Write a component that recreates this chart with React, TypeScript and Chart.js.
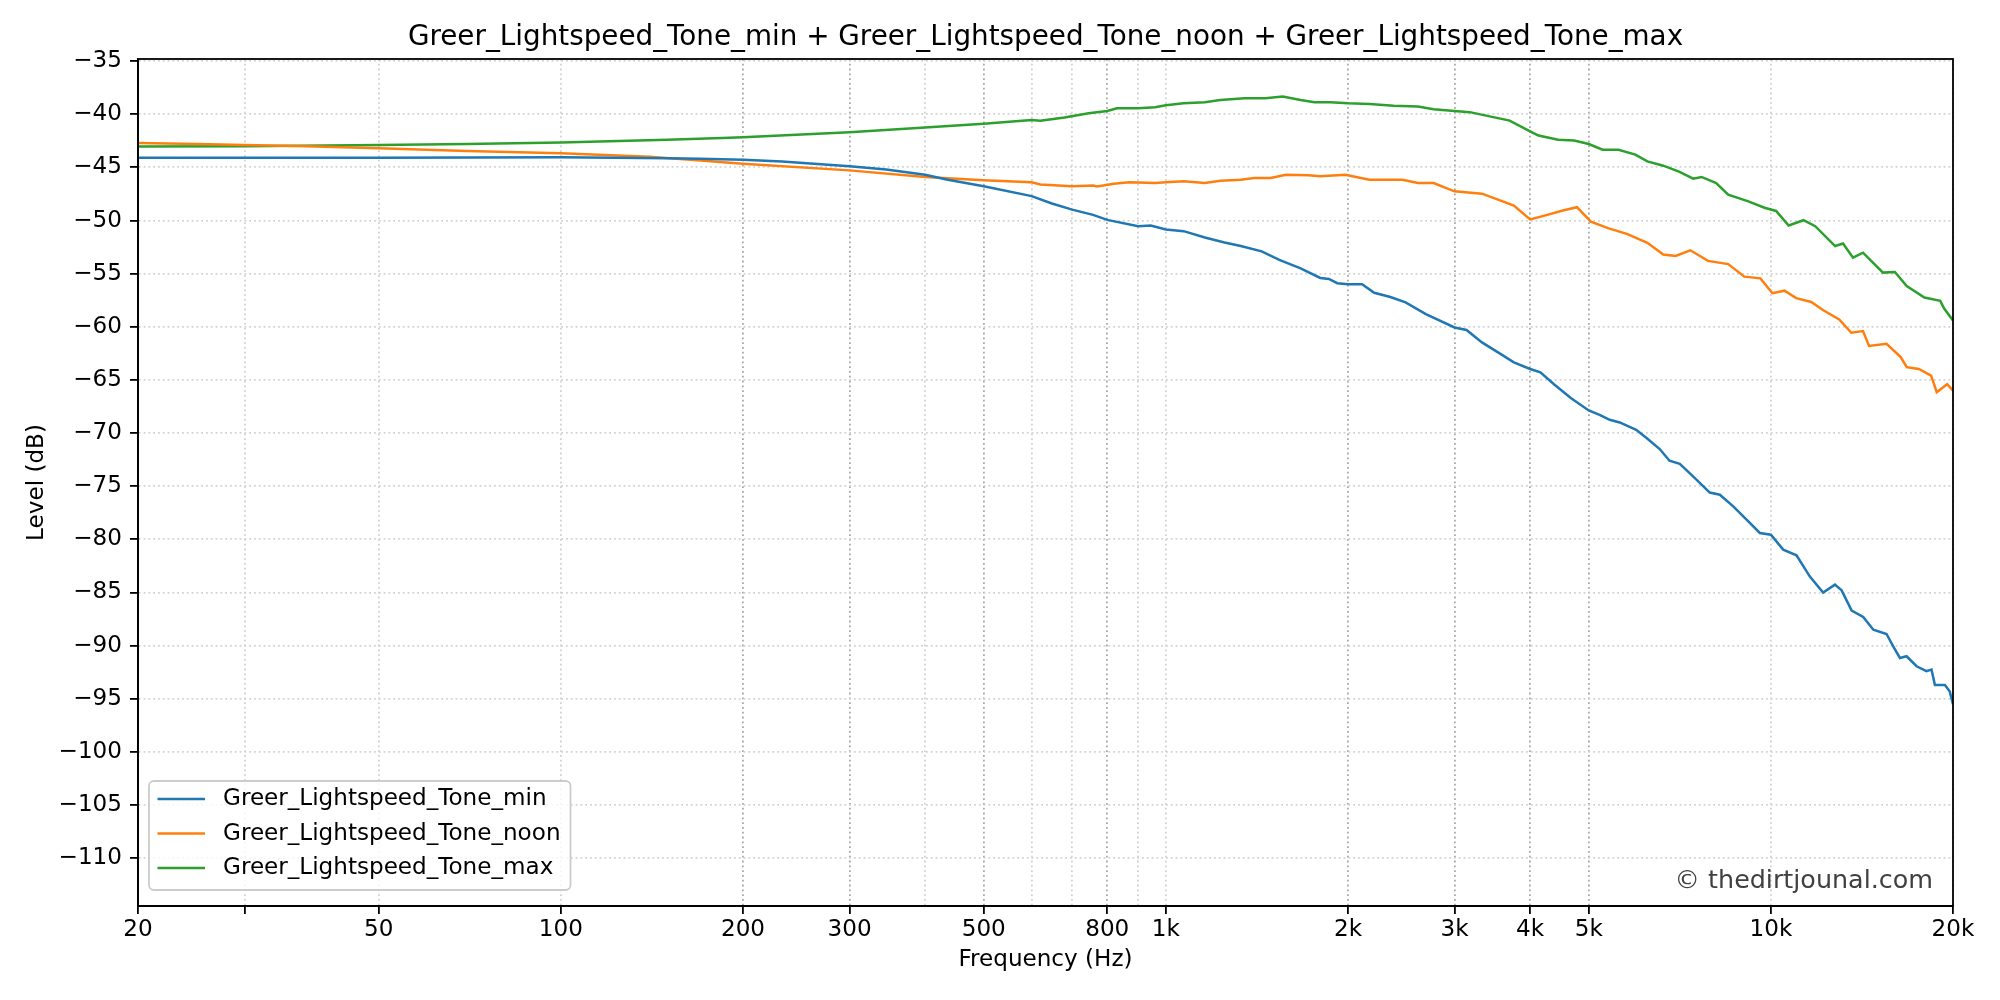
import React, { useEffect, useRef } from 'react';
import { Chart, registerables } from 'chart.js';

Chart.register(...registerables);

const FONT = "'DejaVu Sans', 'Liberation Sans', sans-serif";

const TITLE = 'Greer_Lightspeed_Tone_min + Greer_Lightspeed_Tone_noon + Greer_Lightspeed_Tone_max';
const X_TITLE = 'Frequency (Hz)';
const Y_TITLE = 'Level (dB)';
const WATERMARK = '\u00a9 thedirtjounal.com';

const SERIES_NAMES = ['Greer_Lightspeed_Tone_min', 'Greer_Lightspeed_Tone_noon', 'Greer_Lightspeed_Tone_max'];
const SERIES_COLORS = ['#1f77b4', '#ff7f0e', '#2ca02c'];

// Tick definitions
const X_TICK_VALUES = [20, 50, 100, 200, 300, 500, 800, 1000, 2000, 3000, 4000, 5000, 10000, 20000];
const X_TICK_LABELS = ['20', '50', '100', '200', '300', '500', '800', '1k', '2k', '3k', '4k', '5k', '10k', '20k'];
const X_MINOR_TICKS = [30];
const X_GRID_ONLY = [400, 600, 700, 900];
const X_DARK_GRID = [200, 300, 500, 800, 2000, 3000, 4000, 5000];
const Y_TICKS = [-35, -40, -45, -50, -55, -60, -65, -70, -75, -80, -85, -90, -95, -100, -105, -110];

// Series: Tone min
const MIN_FREQ = [20, 30, 50, 100, 150, 170, 200, 232, 300, 345, 400, 436, 500, 600, 648, 700, 758, 800, 900, 944,
  1000, 1070, 1160, 1250, 1330, 1440, 1540, 1670, 1800, 1860, 1920, 2000, 2110, 2210, 2350, 2490, 2690, 3000, 3140, 3330,
  3540, 3760, 4000, 4160, 4380, 4670, 5000, 5210, 5415, 5625, 5990, 6230, 6550, 6800, 7070, 7437, 7925, 8234, 8666, 9116,
  9590, 10000, 10480, 11025, 11600, 12200, 12760, 13090, 13600, 14210, 14770, 15530, 15930, 16340, 16760, 17410, 18080, 18430, 18670, 19390,
  19750, 20000];
const MIN_DB = [-44.1, -44.1, -44.1, -44.05, -44.15, -44.19, -44.28, -44.44, -44.9, -45.2, -45.7, -46.16, -46.78, -47.7, -48.4, -48.97, -49.47, -49.94, -50.53, -50.47,
  -50.84, -51.0, -51.6, -52.06, -52.4, -52.9, -53.7, -54.5, -55.4, -55.5, -55.9, -56.0, -56.0, -56.8, -57.2, -57.7, -58.8, -60.06, -60.3, -61.47,
  -62.4, -63.34, -63.97, -64.28, -65.4, -66.7, -67.87, -68.28, -68.75, -69.0, -69.7, -70.47, -71.5, -72.6, -72.9, -74.08, -75.6, -75.8, -76.9, -78.15,
  -79.4, -79.56, -80.97, -81.5, -83.5, -85.0, -84.26, -84.8, -86.7, -87.3, -88.5, -88.9, -90.06, -91.16, -91.0, -91.94, -92.4, -92.26, -93.7, -93.7,
  -94.3, -95.5];

// Series: Tone noon
const NOON_FREQ = [20, 25, 30, 38, 50, 70, 100, 140, 170, 200, 300, 400, 500, 600, 620, 700, 758, 770, 820, 870,
  960, 1000, 1070, 1160, 1230, 1330, 1400, 1490, 1580, 1720, 1800, 1920, 1980, 2170, 2460, 2610, 2770, 3000, 3330, 3540,
  3760, 4000, 4270, 4530, 4780, 5040, 5380, 5780, 6250, 6640, 6960, 7360, 7870, 8500, 9040, 9610, 10060, 10530, 11010, 11660,
  12210, 12970, 13580, 14200, 14530, 15530, 16390, 16770, 17560, 18400, 18800, 19560, 20000];
const NOON_DB = [-42.7, -42.8, -42.9, -43.0, -43.2, -43.45, -43.66, -44.0, -44.34, -44.66, -45.28, -45.9, -46.2, -46.4, -46.6, -46.78, -46.7, -46.8, -46.53, -46.4,
  -46.47, -46.4, -46.3, -46.47, -46.25, -46.16, -46.0, -46.0, -45.7, -45.75, -45.84, -45.75, -45.7, -46.16, -46.16, -46.47, -46.47, -47.25, -47.47, -48.03,
  -48.6, -49.9, -49.47, -49.06, -48.75, -50.1, -50.72, -51.25, -52.1, -53.2, -53.34, -52.8, -53.8, -54.1, -55.28, -55.44, -56.84, -56.6, -57.3, -57.66,
  -58.44, -59.3, -60.56, -60.4, -61.8, -61.6, -62.84, -63.8, -63.97, -64.6, -66.16, -65.4, -66.0];

// Series: Tone max
const MAX_FREQ = [20, 30, 50, 70, 100, 150, 190, 200, 300, 400, 500, 600, 620, 680, 745, 800, 830, 900, 960, 1000,
  1070, 1160, 1230, 1350, 1460, 1560, 1670, 1760, 1870, 2000, 2170, 2380, 2610, 2770, 3000, 3180, 3430, 3700, 4000, 4130,
  4450, 4730, 5000, 5270, 5600, 5970, 6250, 6640, 7050, 7440, 7680, 8120, 8500, 9180, 9760, 10200, 10700, 11320, 11840, 12770,
  13160, 13670, 14200, 15320, 16030, 16770, 17940, 19050, 19350, 20000];
const MAX_DB = [-43.03, -43.0, -42.9, -42.8, -42.65, -42.4, -42.2, -42.16, -41.69, -41.25, -40.9, -40.53, -40.6, -40.3, -39.9, -39.7, -39.44, -39.44, -39.34, -39.15,
  -38.97, -38.87, -38.66, -38.5, -38.5, -38.34, -38.66, -38.87, -38.87, -38.97, -39.03, -39.2, -39.28, -39.53, -39.7, -39.8, -40.2, -40.6, -41.6, -42.0,
  -42.4, -42.47, -42.8, -43.34, -43.34, -43.8, -44.44, -44.84, -45.4, -46.06, -45.9, -46.47, -47.56, -48.2, -48.8, -49.1, -50.47, -49.97, -50.53, -52.4,
  -52.16, -53.5, -53.03, -54.9, -54.84, -56.16, -57.25, -57.56, -58.3, -59.4];

const SERIES_FREQ = [MIN_FREQ, NOON_FREQ, MAX_FREQ];
const SERIES_DB = [MIN_DB, NOON_DB, MAX_DB];

const TICK_FS = 23.1;
const TITLE_FS = 27.8;
const WM_FS = 25.4;
const LINE_W = 2.5;

const decorPlugin = {
  id: 'decor',
  afterDraw(chart: any) {
    const { ctx, chartArea: a } = chart;
    ctx.save();

    // watermark
    ctx.font = `${WM_FS}px ${FONT}`;
    ctx.fillStyle = '#404040';
    ctx.textAlign = 'right';
    ctx.textBaseline = 'alphabetic';
    ctx.fillText(WATERMARK, a.right - 20, a.bottom - 18);

    // legend
    const ds = chart.data.datasets;
    ctx.font = `${TICK_FS}px ${FONT}`;
    const textW = Math.max(...ds.map((d: any) => ctx.measureText(d.label).width));
    const bx = a.left + 11;
    const bh = 109;
    const by = a.bottom - 16 - bh;
    const bw = 74 + textW + 10;
    ctx.beginPath();
    (ctx as any).roundRect(bx, by, bw, bh, 5);
    ctx.fillStyle = 'rgba(255,255,255,0.8)';
    ctx.fill();
    ctx.lineWidth = 1.8;
    ctx.strokeStyle = '#cccccc';
    ctx.stroke();
    ds.forEach((d: any, i: number) => {
      const cy = by + 18 + i * 34.5;
      ctx.beginPath();
      ctx.moveTo(bx + 8.5, cy);
      ctx.lineTo(bx + 56, cy);
      ctx.lineWidth = LINE_W;
      ctx.strokeStyle = d.borderColor;
      ctx.stroke();
      ctx.fillStyle = '#000';
      ctx.textAlign = 'left';
      ctx.textBaseline = 'middle';
      ctx.fillText(d.label, bx + 74, cy);
    });

    // frame
    ctx.strokeStyle = '#000';
    ctx.lineWidth = 1.8;
    ctx.strokeRect(a.left, a.top, a.right - a.left, a.bottom - a.top);

    // title
    ctx.fillStyle = '#000';
    ctx.font = `${TITLE_FS}px ${FONT}`;
    ctx.textAlign = 'center';
    ctx.textBaseline = 'alphabetic';
    ctx.fillText(TITLE, (a.left + a.right) / 2, a.top - 14);

    ctx.restore();
  },
};

export default function App() {
  const ref = useRef<HTMLCanvasElement | null>(null);

  useEffect(() => {
    document.body.style.margin = '0';
    const canvas = ref.current;
    if (!canvas) return;

    const xAll = [...X_TICK_VALUES, ...X_MINOR_TICKS, ...X_GRID_ONLY].sort((p, q) => p - q);

    const datasets = SERIES_NAMES.map((name, si) => ({
      label: name,
      data: SERIES_FREQ[si].map((f, i) => ({ x: f, y: SERIES_DB[si][i] })),
      borderColor: SERIES_COLORS[si],
      backgroundColor: SERIES_COLORS[si],
      borderWidth: LINE_W,
      pointRadius: 0,
      tension: 0,
      fill: false,
    }));

    const chart = new Chart(canvas, {
      type: 'line',
      data: { datasets },
      plugins: [decorPlugin],
      options: {
        animation: false,
        responsive: false,
        devicePixelRatio: 1,
        events: [],
        layout: { padding: { top: 59, right: 47, bottom: 0, left: 0 } },
        plugins: {
          legend: { display: false },
          title: { display: false },
          tooltip: { enabled: false },
        },
        scales: {
          x: {
            type: 'logarithmic',
            position: 'bottom',
            min: 20,
            max: 20000,
            afterBuildTicks: (s: any) => {
              s.ticks = xAll.map((v) => ({ value: v }));
            },
            afterFit: (s: any) => {
              s.height = 94;
            },
            ticks: {
              autoSkip: false,
              maxRotation: 0,
              minRotation: 0,
              padding: 2,
              color: '#000',
              font: { family: FONT, size: TICK_FS },
              callback: (v: any) => {
                const idx = X_TICK_VALUES.indexOf(Number(v));
                return idx >= 0 ? X_TICK_LABELS[idx] : '';
              },
            },
            grid: {
              color: (c: any) => {
                const v = c.tick ? c.tick.value : 0;
                return X_DARK_GRID.includes(v) ? '#a9a9a9' : '#d2d2d2';
              },
              lineWidth: 1.8,
              drawTicks: true,
              tickLength: 8,
              tickWidth: 1.8,
              tickColor: (c: any) => {
                const v = c.tick ? c.tick.value : 0;
                return X_GRID_ONLY.includes(v) ? 'rgba(0,0,0,0)' : '#000';
              },
            },
            border: { display: true, color: '#000', width: 1.8, dash: [1.8, 3] },
            title: {
              display: true,
              text: X_TITLE,
              color: '#000',
              font: { family: FONT, size: TICK_FS },
              padding: { top: 0, bottom: 26 },
            },
          },
          y: {
            type: 'linear',
            min: -114.5,
            max: -34.8,
            afterBuildTicks: (s: any) => {
              s.ticks = Y_TICKS.map((v) => ({ value: v }));
            },
            afterFit: (s: any) => {
              s.width = 138;
            },
            ticks: {
              padding: 8,
              color: '#000',
              font: { family: FONT, size: TICK_FS },
              callback: (v: any) => String(v).replace('-', '\u2212'),
            },
            grid: {
              color: '#d2d2d2',
              lineWidth: 1.8,
              drawTicks: true,
              tickLength: 8,
              tickWidth: 1.8,
              tickColor: '#000',
            },
            border: { display: true, color: '#000', width: 1.8, dash: [1.8, 3] },
            title: {
              display: true,
              text: Y_TITLE,
              color: '#000',
              font: { family: FONT, size: TICK_FS },
              padding: { top: 23, bottom: 0 },
            },
          },
        },
      } as any,
    });

    return () => {
      chart.destroy();
    };
  }, []);

  return (
    <div style={{ width: 2000, height: 1000 }}>
      <canvas ref={ref} width={2000} height={1000} style={{ width: 2000, height: 1000, display: 'block' }} />
    </div>
  );
}
